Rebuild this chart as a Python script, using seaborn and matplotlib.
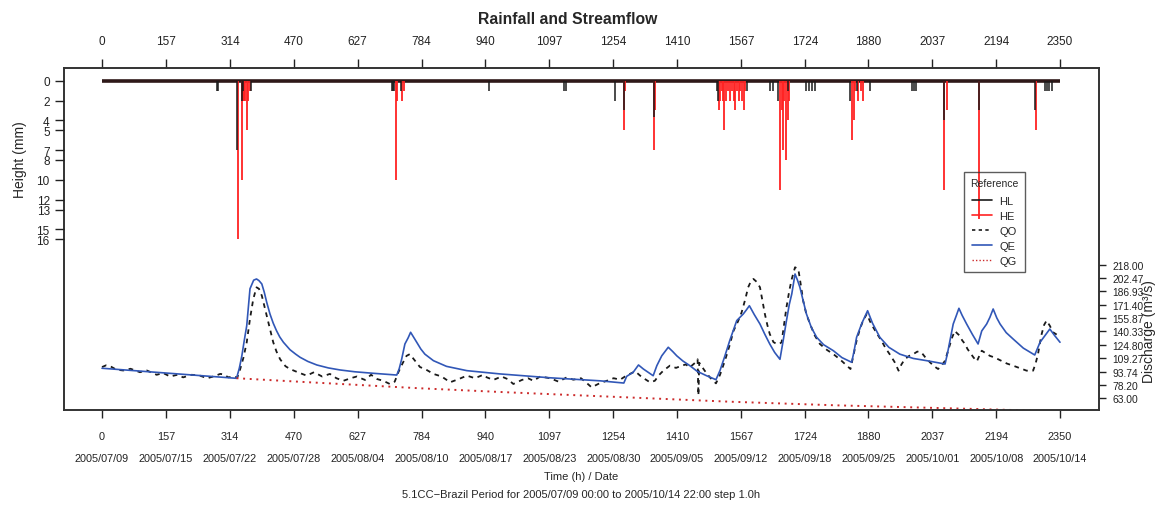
import numpy as np
import pandas as pd
import matplotlib
matplotlib.use("Agg")
import matplotlib.pyplot as plt
import seaborn as sns
from matplotlib.lines import Line2D

# ---------------- data ----------------
time_ticks = [0, 157, 314, 470, 627, 784, 940, 1097, 1254, 1410, 1567, 1724, 1880, 2037, 2194, 2350]
date_labels = ["2005/07/09", "2005/07/15", "2005/07/22", "2005/07/28", "2005/08/04", "2005/08/10",
               "2005/08/17", "2005/08/23", "2005/08/30", "2005/09/05", "2005/09/12", "2005/09/18",
               "2005/09/25", "2005/10/01", "2005/10/08", "2005/10/14"]
height_ticks = [0, 2, 4, 5, 7, 8, 10, 12, 13, 15, 16]
discharge_ticks = [218.00, 202.47, 186.93, 171.40, 155.87, 140.33, 124.80, 109.27, 93.74, 78.20, 63.00]
period = [0, 2350]

hl_hours = [281, 285, 330, 343, 346, 365, 712, 714, 716, 734, 949, 1134, 1139, 1259, 1280, 1353,
            1508, 1511, 1581, 1638, 1646, 1659, 1683, 1728, 1735, 1742, 1750, 1836, 1852, 1884,
            1986, 1991, 1996, 2066, 2151, 2288, 2312, 2318, 2324, 2330]
hl_mm = [1, 1, 7, 2, 1, 1, 1, 1, 1, 1, 1, 1, 1, 2, 3, 3.7,
         1, 2, 1, 1, 1, 2, 1, 1, 1, 1, 1, 2, 1, 1,
         1, 1, 1, 4, 3, 3, 1, 1, 1, 1]

he_hours = [333, 344, 347, 349, 351, 355, 358, 362, 721, 724, 735, 741, 1281, 1283, 1354, 1357,
            1514, 1517, 1520, 1523, 1526, 1530, 1535, 1540, 1545, 1550, 1553, 1557, 1562, 1566, 1570, 1575, 1578,
            1664, 1667, 1670, 1673, 1678, 1682, 1684, 1840, 1844, 1847, 1855, 1862, 1866,
            2065, 2073, 2151, 2291]
he_mm = [16, 10, 2, 2, 2, 5, 2, 1, 10, 2, 2, 1, 5, 1, 7, 3,
         3, 2, 1, 2, 5, 2, 1, 2, 1, 2, 3, 1, 2, 1, 2, 3, 1,
         11, 3, 7, 2, 8, 4, 2, 6, 4, 1, 2, 1, 2,
         11, 3, 14, 5]

qo_hours = [0, 10, 20, 35, 52, 70, 93, 110, 134, 150, 167, 185, 199, 220, 240, 258, 273, 290, 298, 310,
            322, 332, 339, 347, 355, 363, 371, 379, 385, 392, 404, 412, 420, 428, 437, 450, 461, 480, 502,
            520, 540, 559, 575, 592, 610, 625, 645, 660, 675, 690, 706, 718, 727, 737, 747, 755, 765, 780,
            795, 813, 833, 854, 875, 895, 915, 935, 944, 960, 980, 995, 1009, 1030, 1045, 1058, 1075, 1099,
            1120, 1140, 1156, 1175, 1190, 1201, 1220, 1238, 1255, 1271, 1283, 1295, 1308, 1320, 1332, 1344,
            1356, 1367, 1377, 1393, 1408, 1422, 1432, 1442, 1455, 1461, 1463, 1465, 1478, 1491, 1506, 1516,
            1528, 1540, 1549, 1560, 1569, 1578, 1585, 1592, 1598, 1606, 1614, 1620, 1626, 1632, 1638, 1647,
            1655, 1662, 1667, 1673, 1679, 1686, 1692, 1700, 1708, 1714, 1720, 1728, 1737, 1748, 1761, 1778,
            1794, 1810, 1827, 1836, 1843, 1851, 1859, 1867, 1876, 1884, 1892, 1902, 1912, 1922, 1932, 1944,
            1954, 1961, 1969, 1980, 1990, 2000, 2010, 2020, 2031, 2041, 2051, 2060, 2068, 2078, 2085, 2092,
            2098, 2104, 2110, 2117, 2123, 2129, 2138, 2146, 2152, 2158, 2168, 2178, 2190, 2203, 2220, 2235,
            2250, 2268, 2284, 2290, 2296, 2300, 2305, 2311, 2317, 2325, 2333, 2341, 2347]
qo_vals = [99, 101, 100, 96, 95, 97, 93, 95, 90, 92, 88, 90, 87, 90, 89, 86, 88, 91, 90.5, 87,
           88, 87, 96.7, 110, 127.8, 155, 178, 191.7, 190, 182, 158.7, 143, 127.8, 117, 108, 100, 96.7, 93, 89,
           93, 88, 91, 86, 83, 86, 88, 84, 90, 85, 83, 79.3, 82, 93, 103, 112, 114, 108, 99,
           96, 91, 88, 81.3, 85, 89, 86, 90, 87, 84, 88, 85, 79.3, 84, 86, 83, 88, 86,
           82, 87, 84.3, 86, 80, 75.4, 80, 83, 86, 84.3, 88, 91, 94, 89, 85, 81.3,
           83, 90, 94.8, 100.6, 98, 100.6, 102, 98.7, 104, 108, 66, 104, 95, 87, 80, 90,
           106.4, 125, 141, 152, 162.6, 178, 191.7, 199, 201.4, 198, 191.7, 176, 160.7, 148, 137.4, 128,
           125.8, 126, 127.8, 148, 168.5, 188, 201.4, 215, 213, 195, 176, 160, 149, 136, 125.8, 119,
           114, 108, 100.6, 96.7, 112, 129.7, 143, 153, 160.7, 152, 145, 137, 129.7, 121, 114, 105,
           94.8, 102, 108, 112, 114, 117, 116, 110, 104.5, 100, 96.7, 101, 106.4, 122, 133, 141,
           138, 135.5, 130, 125.8, 120, 116, 110, 105.6, 112, 118, 115, 112, 110, 107, 103, 100.6,
           98, 94.8, 94.8, 103, 114, 125, 137.4, 148, 153, 147, 139.4, 137, 135]

qe_hours = [0, 330, 337, 343, 349, 355, 363, 372, 379, 385, 392, 398, 404, 412, 420, 428, 436, 445, 461,
            475, 486, 505, 527, 555, 584, 620, 666, 723, 729, 735, 743, 751, 757, 764, 772, 782, 792,
            813, 845, 895, 976, 1099, 1221, 1280, 1287, 1303, 1316, 1328, 1352, 1361, 1373, 1381, 1389,
            1400, 1410, 1425, 1442, 1460, 1483, 1506, 1516, 1528, 1540, 1557, 1573, 1580, 1588, 1600,
            1614, 1626, 1638, 1650, 1663, 1671, 1679, 1686, 1692, 1700, 1706, 1712, 1720, 1728, 1740,
            1753, 1770, 1794, 1815, 1839, 1845, 1851, 1864, 1878, 1890, 1908, 1930, 1957, 1990, 2023,
            2068, 2074, 2080, 2088, 2095, 2102, 2110, 2121, 2135, 2149, 2158, 2170, 2178, 2186, 2195,
            2203, 2218, 2235, 2260, 2288, 2295, 2301, 2313, 2325, 2337, 2350]
qe_vals = [97.6, 85.9, 98, 112, 130, 147, 190, 200, 201.4, 199.5, 195.6, 186, 174.3, 160.7, 150, 141.3,
           134, 127.8, 119.2, 114, 110.3, 105.5, 101.4, 98, 95.6, 93.5, 91.7, 89.7, 97, 108, 125.8,
           133, 139.4, 134, 127.8, 120, 114, 106.4, 99.8, 94.8, 91, 86.5, 83, 80.4, 88.2, 92.9, 101.4,
           96.7, 88.9, 100.6, 112, 117, 122, 117, 112, 106, 100.6, 94, 88.9, 84.3, 95, 112, 130, 153,
           160.7, 165, 170.3, 160, 149, 137, 125.8, 116, 108, 130, 153, 172, 184, 207.2, 200, 191.7,
           176, 160.7, 145, 133.6, 125, 118, 110, 104.5, 118, 133.6, 150, 164.5, 150, 133.6, 122, 114,
           109, 106.4, 102.5, 115, 129.7, 149, 158, 167.3, 159, 149, 137, 125.8, 141, 149, 156.8, 166.5,
           156, 149, 139, 131.6, 121, 113, 121, 127.8, 135.5, 143.2, 135.5, 127.8]

qg_hours = [330, 500, 780, 1000, 1250, 1540, 1800, 2145, 2350]
qg_vals = [86, 81.5, 74.3, 69.5, 64.5, 58.7, 54.5, 50.2, 47.5]

# ---------------- style ----------------
sns.set_style("ticks")
plt.rcParams["font.family"] = ["Liberation Sans", "DejaVu Sans"]

blue = "#3157b7"
red_line = "#ff2222"
red_dot = "#cc2a2a"
dark = "#1a1a1a"

W, H = 1155, 506
fig = plt.figure(figsize=(W / 100, H / 100), dpi=100)
L, R, T, B = 64.3, 1098.5, 69.0, 410.7
ax = fig.add_axes([L / W, 1 - B / H, (R - L) / W, (B - T) / H])

# discharge lines
sns.lineplot(x=qo_hours, y=qo_vals, ax=ax, color=dark, lw=1.3, linestyle=(0, (2.6, 2.6)),
             estimator=None, sort=False)
sns.lineplot(x=qe_hours, y=qe_vals, ax=ax, color=blue, lw=1.2, estimator=None, sort=False)
sns.lineplot(x=qg_hours, y=qg_vals, ax=ax, color=red_dot, lw=1.4, linestyle=(0, (1, 2.4)),
             estimator=None, sort=False)

ax.set_xlim(-92.5, 2444.4)
ax.set_ylim(49.4, 446.7)
ax.set_xlabel("")
ax.set_ylabel("")

# rainfall on twin axis
ax2 = ax.twinx()
ax2.hlines(0, period[0], period[1], color="#2e1818", lw=2.6, zorder=2)
ax2.vlines(he_hours, 0, he_mm, color=red_line, lw=1.3, zorder=3)
ax2.vlines(hl_hours, 0, hl_mm, color=dark, lw=1.1, zorder=4)
ax2.set_ylim(33.2, -1.28)
ax2.set_xlim(-92.5, 2444.4)

# ticks
ax.yaxis.set_ticks_position("right")
ax.set_yticks(discharge_ticks)
ax.set_yticklabels([f"{v:.2f}" for v in discharge_ticks])
ax.tick_params(axis="y", direction="out", length=5, width=1, pad=5, labelsize=7.4, colors="#222222")

ax2.yaxis.set_ticks_position("left")
ax2.set_yticks(height_ticks)
ax2.set_yticklabels([str(v) for v in height_ticks])
ax2.tick_params(axis="y", direction="out", length=6.5, width=1, pad=4, labelsize=8.5, colors="#222222")

ax.set_xticks(time_ticks)
ax.set_xticklabels([f"{t}\n{d}" for t, d in zip(time_ticks, date_labels)])
ax.tick_params(axis="x", direction="out", length=6, width=1, pad=9.5, labelsize=7.8,
               colors="#222222")
for lbl in ax.get_xticklabels():
    lbl.set_linespacing(2.45)

top = ax.secondary_xaxis("top")
top.set_xticks(time_ticks)
top.set_xticklabels([str(t) for t in time_ticks])
top.tick_params(axis="x", direction="out", length=6.5, width=1, pad=8.5, labelsize=8.5,
                colors="#222222")
for s in top.spines.values():
    s.set_visible(False)

for s in ax.spines.values():
    s.set_linewidth(1.4)
    s.set_color("#333333")
for s in ax2.spines.values():
    s.set_visible(False)

# axis labels and titles
ax.text(-0.043, 0.734, "Height (mm)", rotation=90, ha="center", va="center",
        transform=ax.transAxes, fontsize=10)
ax.text(1.049, 0.233, "Discharge (m³/s)", rotation=90, ha="center", va="center",
        transform=ax.transAxes, fontsize=10)
fig.text(568 / W, 1 - 20 / H, "Rainfall and Streamflow", ha="center", va="center",
         fontsize=11.3, fontweight="bold")
fig.text(581 / W, 1 - 477 / H, "Time (h) / Date", ha="center", va="center", fontsize=8)
fig.text(581 / W, 1 - 495 / H,
         "5.1CC\u2212Brazil Period for 2005/07/09 00:00 to 2005/10/14 22:00 step 1.0h",
         ha="center", va="center", fontsize=8)

# legend
handles = [
    Line2D([], [], color=dark, lw=1.2, label="HL"),
    Line2D([], [], color=red_line, lw=1.2, label="HE"),
    Line2D([], [], color=dark, lw=1.2, linestyle=(0, (2, 2)), label="QO"),
    Line2D([], [], color=blue, lw=1.2, label="QE"),
    Line2D([], [], color=red_dot, lw=1.0, linestyle=(0, (1, 1.5)), label="QG"),
]
leg = ax2.legend(handles=handles, title="Reference", loc="upper left",
                 bbox_to_anchor=(0.870, 0.696), frameon=True, fancybox=False,
                 fontsize=8, title_fontsize=7.5, handlelength=1.8, labelspacing=0.45,
                 borderpad=0.55, handletextpad=0.6, borderaxespad=0)
leg.get_frame().set_facecolor("none")
leg.get_frame().set_edgecolor("#333333")
leg.get_frame().set_linewidth(1.0)
leg._legend_box.sep = 6

fig.savefig("out.png", dpi=100)
